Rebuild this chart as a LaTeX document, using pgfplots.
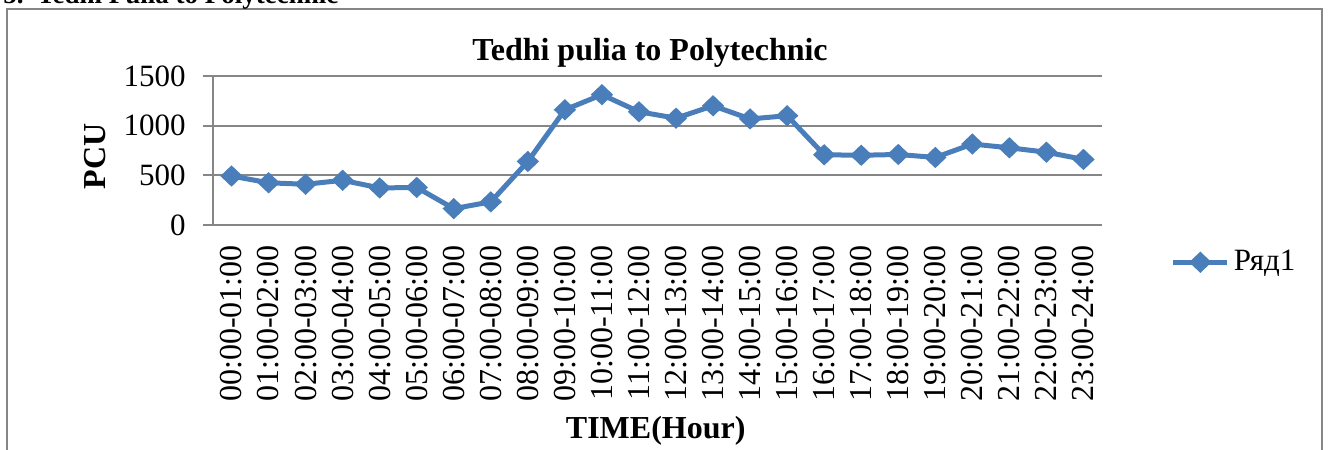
\documentclass[border=0pt]{standalone}
\usepackage{fontspec}
\setmainfont{Liberation Serif}
\usepackage{pgfplots}
\pgfplotsset{compat=1.18}
\definecolor{serblue}{HTML}{4A7EBB}
\definecolor{gridgray}{HTML}{868686}
\begin{document}
\begin{tikzpicture}
\path[use as bounding box] (0,0) rectangle (665pt,225pt);
\clip (0,0) rectangle (665pt,225pt);
\draw[gridgray, line width=0.7pt] (3.5pt,-10pt) rectangle (661pt,220.5pt);
\node[anchor=base west, inner sep=0pt, font=\fontsize{13.5}{16}\selectfont\bfseries] at (1.5pt,223pt) {5.\ \ Tedhi Pulia to Polytechnic};
\begin{axis}[
  at={(106.5pt,112.5pt)}, anchor=south west,
  scale only axis, width=444.5pt, height=74.5pt,
  xmin=-0.5, xmax=23.5, ymin=0, ymax=1500,
  xtick={0,...,23},
  xticklabels={00:00-01:00,01:00-02:00,02:00-03:00,03:00-04:00,04:00-05:00,05:00-06:00,06:00-07:00,07:00-08:00,08:00-09:00,09:00-10:00,10:00-11:00,11:00-12:00,12:00-13:00,13:00-14:00,14:00-15:00,15:00-16:00,16:00-17:00,17:00-18:00,18:00-19:00,19:00-20:00,20:00-21:00,21:00-22:00,22:00-23:00,23:00-24:00},
  ytick={0,500,1000,1500},
  /pgf/number format/assume math mode=true,
  /pgf/number format/1000 sep={},
  axis x line*=bottom, axis y line*=left,
  axis line style={gridgray, line width=1pt, -},
  x axis line style={draw=none},
  ymajorgrids, grid style={gridgray, line width=1pt},
  major x tick style={draw=none},
  major y tick style={gridgray, line width=1pt},
  tick align=outside, major tick length=5pt,
  xticklabel style={rotate=90, anchor=east, font=\fontsize{16}{18}\selectfont, inner sep=0pt, xshift=-5pt},
  yticklabel style={font=\fontsize{15.5}{17}\selectfont, inner sep=0pt, xshift=-8.5pt},
  title={Tedhi pulia to Polytechnic},
  title style={font=\fontsize{16}{18}\selectfont\bfseries, at={(rel axis cs:0.4916,1.075)}, anchor=center, inner sep=0pt},
  xlabel={TIME(Hour)},
  xlabel style={font=\fontsize{16}{18}\selectfont\bfseries, at={(rel axis cs:0.498,-1.38)}, anchor=center, inner sep=0pt},
  ylabel={PCU},
  ylabel style={font=\fontsize{16}{18}\selectfont\bfseries, at={(rel axis cs:-0.133,0.46)}, anchor=center, inner sep=0pt},
  legend style={at={(1.077,-0.25)}, anchor=west, draw=none, fill=none, font=\fontsize{15.5}{17}\selectfont, inner sep=0pt},
  legend cell align=left,
  legend image code/.code={
    \draw[#1, mark repeat=2, mark phase=2] plot coordinates {(0pt,0pt) (13.5pt,0pt) (27pt,0pt)};
  },
  clip=false,
]
\addplot[serblue, line width=2.5pt, mark=diamond*, mark size=3.6pt, mark options={xscale=1.4, solid}] coordinates {
(0,493) (1,425) (2,410) (3,450) (4,373) (5,378) (6,165) (7,233) (8,640) (9,1160) (10,1312) (11,1140)
(12,1075) (13,1200) (14,1068) (15,1100) (16,707) (17,702) (18,710) (19,680) (20,815) (21,777) (22,733) (23,660)
};
\addlegendentry{Ряд1}
\end{axis}
\end{tikzpicture}
\end{document}
